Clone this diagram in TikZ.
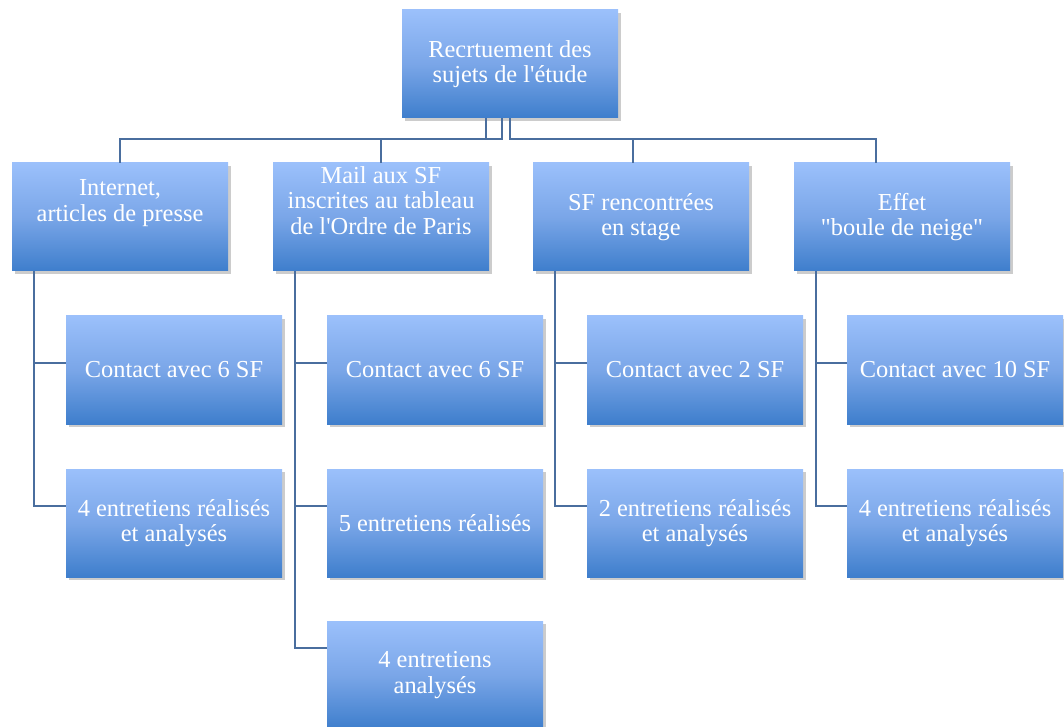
\documentclass[tikz,border=0pt]{standalone}
\usepackage{fontspec}
\setmainfont{Liberation Serif}
\usepackage{tikz}
\usetikzlibrary{calc,shadows}

\definecolor{boxtop}{RGB}{155,192,251}
\definecolor{boxmid}{RGB}{122,166,232}
\definecolor{boxbot}{RGB}{62,126,204}
\definecolor{linkblue}{RGB}{74,110,158}

\tikzset{
  box/.style={rectangle, minimum width=162pt, minimum height=81pt, inner sep=1pt,
    top color=boxtop, bottom color=boxbot, middle color=boxmid,
    text=white, align=center, font=\fontsize{18.3}{19.2}\selectfont,
    drop shadow={shadow xshift=2pt, shadow yshift=-2.4pt, opacity=0.4}},
  link/.style={draw=linkblue, line width=1.4pt},
}

\begin{document}
\begin{tikzpicture}[x=0.75pt,y=-0.75pt]

\useasboundingbox (0,0) rectangle (1064,727);

% top box
\node[box] (root) at (510,64) {Recrtuement des\\sujets de l\textquotesingle\'etude};

% second row
\node[box] (c1) at (120,217) {Internet,\\articles de presse\\\strut};
\node[box] (c2) at (381,217) {Mail aux SF\\inscrites au tableau\\de l\textquotesingle Ordre de Paris\\\strut};
\node[box] (c3) at (641,217) {SF rencontr\'ees\\en stage};
\node[box] (c4) at (902,217) {Effet\\\textquotedbl boule de neige\textquotedbl};

% results under each source
\node[box] (g11) at (174,370) {Contact avec 6 SF};
\node[box] (g12) at (174,523) {4 entretiens r\'ealis\'es\\et analys\'es};
\node[box] (g21) at (435,370) {Contact avec 6 SF};
\node[box] (g22) at (435,523) {5 entretiens r\'ealis\'es};
\node[box] (g23) at (435,675) {4 entretiens\\analys\'es};
\node[box] (g31) at (695,370) {Contact avec 2 SF};
\node[box] (g32) at (695,523) {2 entretiens r\'ealis\'es\\et analys\'es};
\node[box] (g41) at (955,370) {Contact avec 10 SF};
\node[box] (g42) at (955,523) {4 entretiens r\'ealis\'es\\et analys\'es};

% links from the top box
\draw[link] ($(root.south)+(-24,0)$) -- ++(0,21) -| (c1.north);
\draw[link] ($(root.south)+(-8,0)$) -- ++(0,21) -| (c2.north);
\draw[link] (root.south) -- ++(0,21) -| ($(c3.north)+(-8,0)$);
\draw[link] (root.south) -- ++(0,21) -| ($(c4.north)+(-26,0)$);

% links down the columns
\foreach \c/\n in {1/2, 2/3, 3/2, 4/2} {
  \foreach \r in {1,...,\n} {
    \draw[link] ($(c\c.south west)+(22,0)$) |- ($(g\c\r.west)+(0,{-7-10*(\r-1)})$);
  }
}

\end{tikzpicture}
\end{document}
